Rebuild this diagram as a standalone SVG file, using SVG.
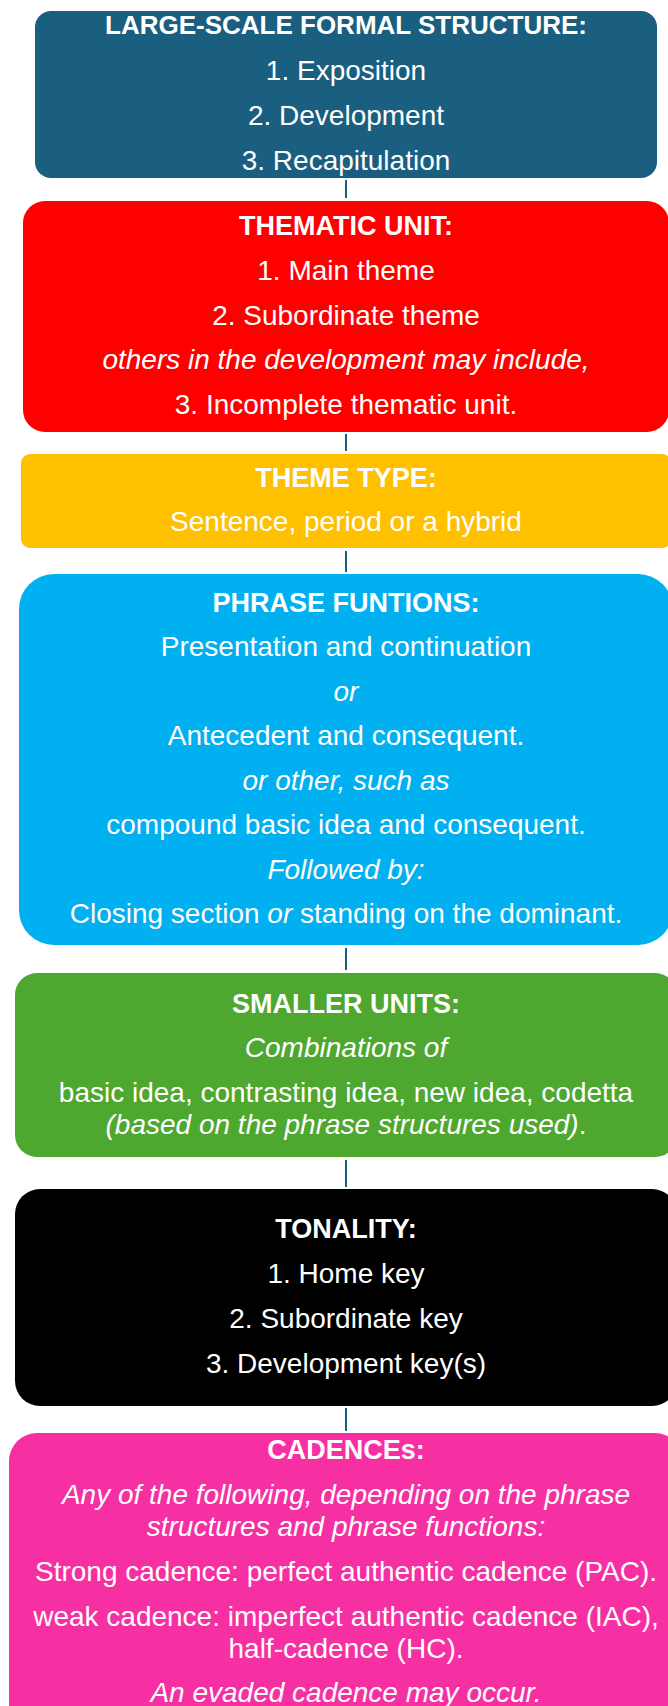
<svg xmlns="http://www.w3.org/2000/svg" width="668" height="1706" viewBox="0 0 668 1706">
  <style>
    text { font-family: "Liberation Sans", Arial, sans-serif; fill: #ffffff; text-anchor: middle; font-size: 28px; }
    .h { font-weight: bold; font-size: 27px; }
    .i { font-style: italic; }
    .link { stroke: #1a5e80; stroke-width: 2; fill: none; }
  </style>

  <rect width="668" height="1706" fill="#ffffff"/>

  <!-- vertical connectors between stacked boxes -->
  <g id="connectors">
    <line class="link" x1="346" y1="180" x2="346" y2="198"/>
    <line class="link" x1="346" y1="434" x2="346" y2="451"/>
    <line class="link" x1="346" y1="551" x2="346" y2="572"/>
    <line class="link" x1="346" y1="948" x2="346" y2="970"/>
    <line class="link" x1="346" y1="1160" x2="346" y2="1187"/>
    <line class="link" x1="346" y1="1408" x2="346" y2="1431"/>
  </g>

  <g id="formal-structure">
    <rect x="35" y="11" width="622" height="167" rx="16" fill="#1a5e80"/>
    <text class="h" x="346" y="34" style="font-size:26px">LARGE-SCALE FORMAL STRUCTURE:</text>
    <text x="346" y="80">1. Exposition</text>
    <text x="346" y="125">2. Development</text>
    <text x="346" y="170">3. Recapitulation</text>
  </g>

  <g id="thematic-unit">
    <rect x="23" y="201" width="646" height="231" rx="22" fill="#ff0000"/>
    <text class="h" x="346" y="235">THEMATIC UNIT:</text>
    <text x="346" y="280">1. Main theme</text>
    <text x="346" y="325">2. Subordinate theme</text>
    <text class="i" x="346" y="369">others in the development may include,</text>
    <text x="346" y="414">3. Incomplete thematic unit.</text>
  </g>

  <g id="theme-type">
    <rect x="21" y="454" width="650" height="94" rx="9" fill="#ffc000"/>
    <text class="h" x="346" y="487">THEME TYPE:</text>
    <text x="346" y="531">Sentence, period or a hybrid</text>
  </g>

  <g id="phrase-functions">
    <rect x="19" y="574" width="654" height="371" rx="35" fill="#00b0f0"/>
    <text class="h" x="346" y="612">PHRASE FUNTIONS:</text>
    <text x="346" y="656">Presentation and continuation</text>
    <text class="i" x="346" y="701">or</text>
    <text x="346" y="745">Antecedent and consequent.</text>
    <text class="i" x="346" y="790">or other, such as</text>
    <text x="346" y="834">compound basic idea and consequent.</text>
    <text class="i" x="346" y="879">Followed by:</text>
    <text x="346" y="923">Closing section <tspan class="i">or</tspan> standing on the dominant.</text>
  </g>

  <g id="smaller-units">
    <rect x="15" y="973" width="662" height="184" rx="22" fill="#4ea72e"/>
    <text class="h" x="346" y="1013">SMALLER UNITS:</text>
    <text class="i" x="346" y="1057">Combinations of</text>
    <text x="346" y="1102">basic idea, contrasting idea, new idea, codetta</text>
    <text x="346" y="1134"><tspan class="i">(based on  the phrase structures used)</tspan>.</text>
  </g>

  <g id="tonality">
    <rect x="15" y="1189" width="662" height="217" rx="25" fill="#000000"/>
    <text class="h" x="346" y="1238">TONALITY:</text>
    <text x="346" y="1283">1. Home key</text>
    <text x="346" y="1328">2. Subordinate key</text>
    <text x="346" y="1373">3. Development key(s)</text>
  </g>

  <g id="cadences">
    <rect x="9" y="1433" width="674" height="320" rx="28" fill="#f630a2"/>
    <text class="h" x="346" y="1459">CADENCEs:</text>
    <text class="i" x="346" y="1504">Any of the following, depending on the phrase</text>
    <text class="i" x="346" y="1536">structures and phrase functions:</text>
    <text x="346" y="1581">Strong cadence: perfect authentic cadence (PAC).</text>
    <text x="346" y="1626">weak cadence: imperfect authentic cadence (IAC),</text>
    <text x="346" y="1658">half-cadence (HC).</text>
    <text class="i" x="346" y="1702">An evaded cadence may occur.</text>
  </g>
</svg>
